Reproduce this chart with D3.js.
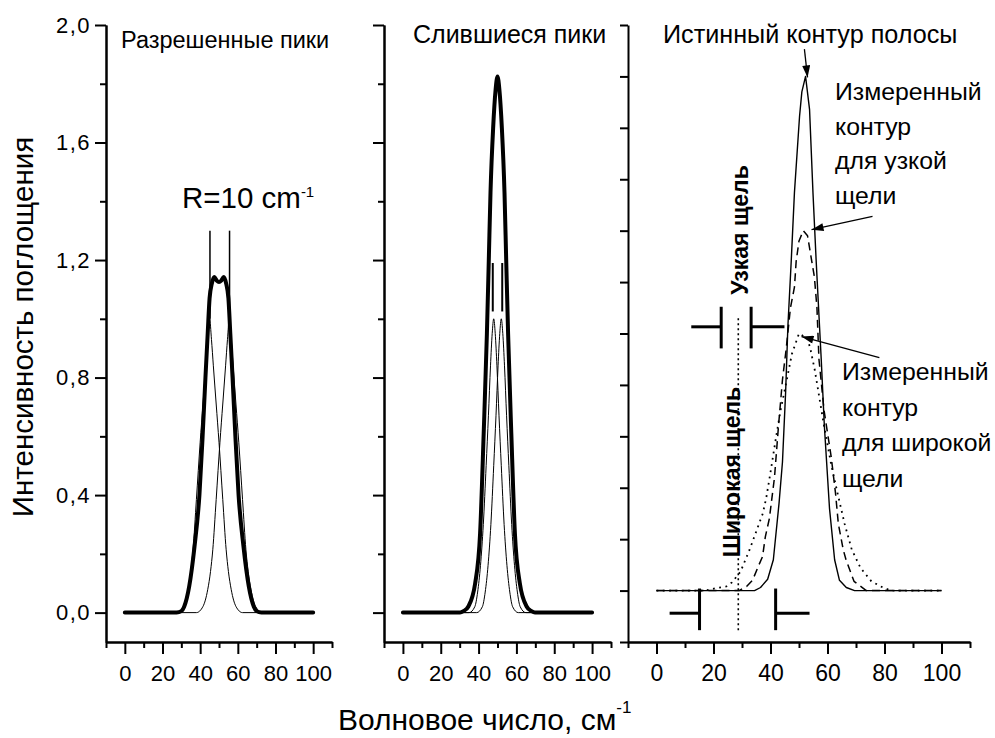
<!DOCTYPE html>
<html>
<head>
<meta charset="utf-8">
<title>Peaks</title>
<script src="https://cdn.jsdelivr.net/npm/d3@7"></script>
<style>
  body { margin: 0; background: #fff; }
  text { font-family: "Liberation Sans", Arial, sans-serif; fill: #000; }
</style>
</head>
<body>
<svg width="995" height="738" id="mainsvg"></svg>
<script>
  // ---- data ----
  const xMajorTicks = [0, 20, 40, 60, 80, 100];
  const xMinorTicks = [-10, 10, 30, 50, 70, 90, 110];
  const yMajorTicks = [0, 0.4, 0.8, 1.2, 1.6, 2.0];
  const yMinorTicks = [0.2, 0.6, 1.0, 1.4, 1.8];
  const y3Ticks = [-0.1, 0, 0.1, 0.2, 0.3, 0.4, 0.5, 0.6, 0.7, 0.8, 0.9, 1.0, 1.1];

  // panel 1: resolved peaks
  const resolvedThinA = [[0,0],[27.5,0],[31,0.02],[33.5,0.078],[35,0.14],[36.2,0.214],[38,0.385],[40,0.58],[41.5,0.71],[43,0.84],[44,0.93],[45,1.0],[46,0.93],[47,0.84],[48.5,0.71],[50,0.58],[52,0.385],[53.8,0.214],[55,0.14],[56.5,0.078],[59,0.021],[62.5,0],[100,0]];
  const resolvedThinB = [[0,0],[38,0],[41.5,0.021],[44,0.078],[45.5,0.14],[46.7,0.214],[48.5,0.385],[50.5,0.58],[52,0.71],[53.5,0.84],[54.5,0.93],[55.5,1.0],[56.5,0.93],[57.5,0.84],[59,0.71],[60.5,0.58],[62.5,0.385],[64.3,0.214],[65.5,0.14],[67,0.078],[69.5,0.02],[73,0],[100,0]];
  const resolvedSum = [[0,0],[27.5,0],[30,0.005],[31.5,0.02],[34.2,0.09],[37,0.225],[39.6,0.40],[41.3,0.60],[42.8,0.80],[44,0.95],[45,1.07],[46.2,1.12],[47.5,1.142],[48.8,1.13],[50,1.125],[51.2,1.13],[52.5,1.142],[53.8,1.12],[55,1.07],[56,0.95],[57.2,0.80],[58.7,0.60],[60.4,0.40],[63,0.225],[65.8,0.09],[68.5,0.02],[70,0.005],[72.5,0],[100,0]];
  const resolvedMarks = [45.2, 55.6];
  const resolvedMarkSpan = [1.0, 1.3];

  // panel 2: merged peaks
  const mergedThinA = [[0,0],[35,0],[38,0.02],[39.5,0.07],[41,0.16],[42.5,0.3],[44,0.5],[45.2,0.67],[46.3,0.84],[47.2,0.95],[48,1.0],[48.8,0.95],[49.7,0.84],[50.8,0.67],[52,0.5],[53.5,0.3],[55,0.16],[56.5,0.07],[58,0.02],[61,0],[100,0]];
  const mergedThinB = [[0,0],[39,0],[42,0.02],[43.5,0.07],[45,0.16],[46.5,0.3],[48,0.5],[49.2,0.67],[50.3,0.84],[51.2,0.95],[52,1.0],[52.8,0.95],[53.7,0.84],[54.8,0.67],[56,0.5],[57.5,0.3],[59,0.16],[60.5,0.07],[62,0.02],[65,0],[100,0]];
  const mergedSum = [[0,0],[30.2,0],[32,0.005],[34.6,0.021],[38.2,0.10],[40.8,0.27],[42.7,0.61],[44.4,0.95],[45.4,1.2],[46.3,1.43],[47.7,1.65],[49,1.78],[50,1.825],[51,1.78],[52.3,1.65],[53.7,1.43],[54.6,1.2],[55.6,0.95],[57.3,0.61],[59.2,0.27],[61.8,0.10],[65.4,0.021],[68,0.005],[69.8,0],[100,0]];
  const mergedMarks = [47.5, 52.5];
  const mergedMarkSpan = [1.025, 1.19];

  // panel 3: true band and measured contours
  const trueContour = [[0,0],[34.4,0],[36.5,0.006],[39,0.022],[41,0.06],[43,0.17],[44.2,0.25],[45.3,0.385],[46.1,0.514],[47.3,0.644],[48.4,0.774],[50.2,0.923],[51,0.97],[52.3,1.0],[53.7,0.936],[54.9,0.774],[56,0.644],[57.2,0.514],[57.8,0.45],[58.9,0.32],[60.7,0.16],[62.5,0.06],[64.2,0.02],[66.6,0.006],[69.5,0],[100,0]];
  const narrowContour = [[0,0],[29,0],[31.6,0.008],[33.7,0.02],[35.7,0.047],[37.2,0.066],[38.2,0.105],[39.6,0.14],[41.4,0.22],[42.8,0.32],[44.2,0.41],[45.5,0.47],[47,0.55],[48.4,0.59],[49,0.64],[50,0.68],[51.5,0.70],[53,0.69],[54.5,0.64],[55.4,0.61],[56.3,0.55],[57,0.45],[58.8,0.35],[61.3,0.26],[62.8,0.19],[63.8,0.13],[65.5,0.08],[66.5,0.06],[69.3,0.018],[73.6,0],[100,0]];
  const wideContour = [[0,0],[17,0],[21,0.005],[24.5,0.008],[26.5,0.016],[29.5,0.037],[32.7,0.08],[35,0.115],[37.3,0.15],[38.5,0.18],[40,0.23],[42,0.3],[43.5,0.35],[45,0.39],[47.5,0.46],[50,0.50],[53,0.49],[54,0.47],[55.5,0.43],[57,0.38],[58.8,0.32],[61.3,0.245],[63.5,0.19],[66,0.13],[68.5,0.08],[71.6,0.044],[75.4,0.018],[79.4,0.006],[82.3,0],[100,0]];

  const narrowSlitArms = [[12.2, 22.7], [33.2, 44.9]];
  const narrowSlitLevel = 0.513;
  const narrowSlitBar = [0.471, 0.552];
  const wideSlitArms = [[4.6, 15.1], [41.8, 53.7]];
  const wideSlitLevel = -0.044;
  const wideSlitBar = [-0.077, 0.004];
  const slitCenter = 28.7;
  const slitCenterSpan = [-0.077, 0.53];

  // arrows: [x0, y0, x1, y1] in panel 3 units
  const arrows = [[51.9, 1.053, 53.0, 0.998], [75.8, 0.728, 54.4, 0.702], [78.2, 0.453, 50.9, 0.494]];

  // ---- layout ----
  const svg = d3.select('#mainsvg');
  const yTop = 25, yBottom = 642;

  const x1 = d3.scaleLinear().domain([-10, 110]).range([106, 332]);
  const x2 = d3.scaleLinear().domain([-10, 110]).range([384, 611]);
  const x3 = d3.scaleLinear().domain([-10, 110]).range([628, 970]);
  const y12 = d3.scaleLinear().domain([-0.1, 2.0]).range([yBottom, yTop]);
  const y3 = d3.scaleLinear().domain([-0.1, 1.1]).range([yBottom, yTop]);

  const fmtComma = d => d3.format('.1f')(d).replace('.', ',');

  const styleAxis = function(sel, fontSize){
    sel.select('.domain').attr('stroke', '#000').attr('stroke-width', 2);
    sel.selectAll('.tick line').attr('stroke', '#000').attr('stroke-width', 2);
    sel.selectAll('.tick text').attr('fill', '#000')
      .style('font-family', '"Liberation Sans", Arial, sans-serif')
      .style('font-size', fontSize + 'px');
  };

  const drawXAxis = function(x, fontSize){
    const minor = svg.append('g').attr('transform', `translate(0, ${yBottom})`)
      .call(d3.axisBottom(x).tickValues(xMinorTicks).tickSize(6).tickSizeOuter(0).tickFormat(''));
    styleAxis(minor, fontSize);
    const major = svg.append('g').attr('transform', `translate(0, ${yBottom})`)
      .call(d3.axisBottom(x).tickValues(xMajorTicks).tickSize(12).tickSizeOuter(0).tickPadding(11).tickFormat(d3.format('d')));
    styleAxis(major, fontSize);
  };

  const drawYAxis12 = function(xPos, labels){
    const minor = svg.append('g').attr('transform', `translate(${xPos}, 0)`)
      .call(d3.axisLeft(y12).tickValues(yMinorTicks).tickSize(6).tickSizeOuter(0).tickFormat(''));
    styleAxis(minor, 22);
    const major = svg.append('g').attr('transform', `translate(${xPos}, 0)`)
      .call(d3.axisLeft(y12).tickValues(yMajorTicks).tickSize(11).tickSizeOuter(0).tickPadding(4)
        .tickFormat(labels ? fmtComma : ''));
    styleAxis(major, 22);
    major.selectAll('.tick text').style('letter-spacing', '1.5px');
  };

  drawXAxis(x1, 22);
  drawXAxis(x2, 22);
  drawXAxis(x3, 23);
  drawYAxis12(x1.range()[0], true);
  drawYAxis12(x2.range()[0], false);
  const ax3 = svg.append('g').attr('transform', `translate(${x3.range()[0]}, 0)`)
    .call(d3.axisLeft(y3).tickValues(y3Ticks).tickSize(8).tickSizeOuter(0).tickFormat(''));
  styleAxis(ax3, 22);

  // ---- curves ----
  const smoothLine = (x, y) => d3.line().x(d => x(d[0])).y(d => y(d[1])).curve(d3.curveMonotoneX);
  const polyLine = (x, y) => d3.line().x(d => x(d[0])).y(d => y(d[1]));

  const drawPath = function(data, gen, width, dash){
    svg.append('path').datum(data)
      .attr('fill', 'none').attr('stroke', '#000')
      .attr('stroke-width', width)
      .attr('stroke-linecap', width > 2 ? 'round' : 'butt')
      .attr('stroke-linejoin', 'round')
      .attr('stroke-dasharray', dash || null)
      .attr('d', gen);
  };

  drawPath(resolvedThinA, smoothLine(x1, y12), 1);
  drawPath(resolvedThinB, smoothLine(x1, y12), 1);
  drawPath(resolvedSum, smoothLine(x1, y12), 4);
  resolvedMarks.forEach(m => {
    svg.append('line').attr('x1', x1(m)).attr('x2', x1(m))
      .attr('y1', y12(resolvedMarkSpan[0])).attr('y2', y12(resolvedMarkSpan[1]))
      .attr('stroke', '#000').attr('stroke-width', 1.5);
  });

  drawPath(mergedThinA, smoothLine(x2, y12), 1);
  drawPath(mergedThinB, smoothLine(x2, y12), 1);
  drawPath(mergedSum, smoothLine(x2, y12), 4);
  mergedMarks.forEach(m => {
    svg.append('line').attr('x1', x2(m)).attr('x2', x2(m))
      .attr('y1', y12(mergedMarkSpan[0])).attr('y2', y12(mergedMarkSpan[1]))
      .attr('stroke', '#000').attr('stroke-width', 2);
  });

  drawPath(trueContour, polyLine(x3, y3), 1.4);
  drawPath(narrowContour, polyLine(x3, y3), 1.5, '8,5');
  drawPath(wideContour, polyLine(x3, y3), 1.8, '1.8,4.5');

  // slit symbols
  const drawSlit = function(arms, level, bar){
    arms.forEach((arm, i) => {
      svg.append('line').attr('x1', x3(arm[0])).attr('x2', x3(arm[1]))
        .attr('y1', y3(level)).attr('y2', y3(level))
        .attr('stroke', '#000').attr('stroke-width', 3);
      const bx = i === 0 ? arm[1] : arm[0];
      svg.append('line').attr('x1', x3(bx)).attr('x2', x3(bx))
        .attr('y1', y3(bar[0])).attr('y2', y3(bar[1]))
        .attr('stroke', '#000').attr('stroke-width', 3);
    });
  };
  drawSlit(narrowSlitArms, narrowSlitLevel, narrowSlitBar);
  drawSlit(wideSlitArms, wideSlitLevel, wideSlitBar);
  svg.append('line').attr('x1', x3(slitCenter)).attr('x2', x3(slitCenter))
    .attr('y1', y3(slitCenterSpan[0])).attr('y2', y3(slitCenterSpan[1]))
    .attr('stroke', '#000').attr('stroke-width', 1.6).attr('stroke-dasharray', '2,3');

  // arrows
  svg.append('defs').append('marker').attr('id', 'arrowhead')
    .attr('viewBox', '0 0 12 8').attr('refX', 12).attr('refY', 4)
    .attr('markerWidth', 13).attr('markerHeight', 8)
    .attr('markerUnits', 'userSpaceOnUse').attr('orient', 'auto')
    .append('path').attr('d', 'M0,0L12,4L0,8z').attr('fill', '#000');
  arrows.forEach(a => {
    svg.append('line').attr('x1', x3(a[0])).attr('y1', y3(a[1]))
      .attr('x2', x3(a[2])).attr('y2', y3(a[3]))
      .attr('stroke', '#000').attr('stroke-width', 1.3)
      .attr('marker-end', 'url(#arrowhead)');
  });

  // ---- text ----
  const addText = (x, y, str, size, opts = {}) => svg.append('text')
    .attr('x', x).attr('y', y).style('font-size', size + 'px')
    .style('font-weight', opts.bold ? 'bold' : null)
    .attr('text-anchor', opts.anchor || 'start')
    .attr('transform', opts.rotate ? `rotate(-90, ${x}, ${y})` : null)
    .text(str);

  addText(121, 48, 'Разрешенные пики', 23.5);
  addText(413, 43, 'Слившиеся пики', 25);
  addText(663, 43, 'Истинный контур полосы', 25.2);

  const rText = addText(182, 208, 'R=10 cm', 29.5);
  rText.append('tspan').attr('dy', -11).style('font-size', '15px').text('-1');

  ['Измеренный', 'контур', 'для узкой', 'щели'].forEach((s, i) => addText(835, 100 + i * 34.5, s, 24.8));
  ['Измеренный', 'контур', 'для широкой', 'щели'].forEach((s, i) => addText(842, 380 + i * 35.5, s, 24.8));

  addText(748, 230, 'Узкая щель', 23, {bold: true, anchor: 'middle', rotate: true});
  addText(740, 472, 'Широкая щель', 23, {bold: true, anchor: 'middle', rotate: true});

  addText(33, 327, 'Интенсивность поглощения', 29.5, {anchor: 'middle', rotate: true});
  const xt = addText(338, 730, 'Волновое число, см', 30);
  xt.append('tspan').attr('dy', -17).style('font-size', '17px').text('-1');
</script>
</body>
</html>
